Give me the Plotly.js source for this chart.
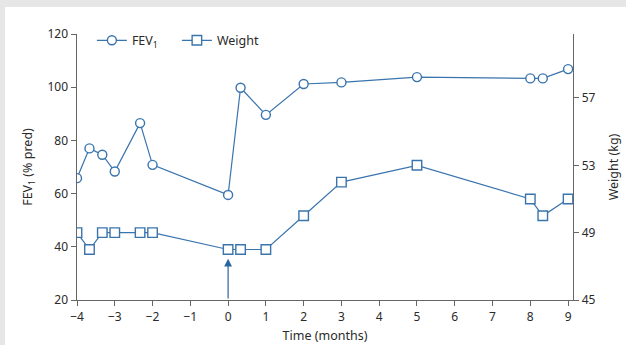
<!DOCTYPE html>
<html>
<head>
<meta charset="utf-8">
<script src="https://cdn.plot.ly/plotly-3.0.1.min.js"></script>
<style>
html,body{margin:0;padding:0;background:#e6e6e6;width:626px;height:345px;overflow:hidden;}
#chart{position:absolute;left:5px;top:7px;width:621px;height:338px;background:#fff;}
</style>
</head>
<body>
<div id="chart"></div>
<script>
const months = [-4, -3.67, -3.33, -3, -2.33, -2, 0, 0.33, 1, 2, 3, 5, 8, 8.33, 9];
const fev1 = [65.8, 77, 74.6, 68.3, 86.5, 70.8, 59.5, 99.8, 89.6, 101.2, 101.8, 103.8, 103.3, 103.3, 106.8];
const weight = [49, 48, 49, 49, 49, 49, 48, 48, 48, 50, 52, 53, 51, 50, 51];
const xTicks = [-4, -3, -2, -1, 0, 1, 2, 3, 4, 5, 6, 7, 8, 9];
const fevTicks = [20, 40, 60, 80, 100, 120];
const weightTicks = [45, 49, 53, 57];

const blue = '#3a74ad';
const axisCol = '#666';
const font = {family: 'Noto Sans, sans-serif', size: 12, color: '#2a2a2a'};

const traces = [
  {x: months, y: fev1, name: 'FEV<sub>1</sub>', type: 'scatter', mode: 'lines+markers',
   line: {color: blue, width: 1.2},
   marker: {symbol: 'circle', size: 9, color: '#fff', line: {color: blue, width: 1.4}}},
  {x: months, y: weight, name: 'Weight', yaxis: 'y2', type: 'scatter', mode: 'lines+markers',
   line: {color: blue, width: 1.2},
   marker: {symbol: 'square', size: 9.5, color: '#fff', line: {color: blue, width: 1.4}}}
];

const layout = {
  width: 621, height: 338,
  margin: {l: 72, r: 52.7, t: 27, b: 45},
  paper_bgcolor: '#fff', plot_bgcolor: '#fff',
  font: font,
  showlegend: true,
  legend: {orientation: 'h', x: 0.03, y: 0.975, xanchor: 'left', yanchor: 'middle',
           entrywidth: 40, entrywidthmode: 'pixels',
           font: {family: 'Noto Sans, sans-serif', size: 12.5, color: '#2a2a2a'}, bgcolor: 'rgba(0,0,0,0)'},
  xaxis: {range: [-4, 9.13], tickvals: xTicks, ticks: 'outside', ticklen: 5, tickcolor: axisCol,
          showline: true, linecolor: axisCol, linewidth: 1.3, showgrid: false, zeroline: false,
          title: {text: 'Time (months)', standoff: 7, font: {size: 12.5, color: '#2a2a2a'}}},
  yaxis: {range: [20, 120], tickvals: fevTicks, ticks: 'outside', ticklen: 5, tickcolor: axisCol,
          showline: true, linecolor: axisCol, linewidth: 1.5, showgrid: false, zeroline: false,
          title: {text: 'FEV<sub>1</sub> (% pred)', standoff: 12, font: {size: 12.5, color: '#2a2a2a'}}},
  yaxis2: {range: [45, 60.8], tickvals: weightTicks, overlaying: 'y', side: 'right',
           ticks: 'outside', ticklen: 5, tickcolor: axisCol,
           showline: true, linecolor: axisCol, linewidth: 1.3, showgrid: false, zeroline: false,
           title: {text: 'Weight (kg)', standoff: 14, font: {size: 12.5, color: '#2a2a2a'}}},
  annotations: [{x: 0, y: 35.5, ax: 0, ay: 20, xref: 'x', yref: 'y', axref: 'x', ayref: 'y',
                 showarrow: true, arrowhead: 2, arrowsize: 1.3, arrowwidth: 1.2, arrowcolor: '#2a66a0', text: ''}]
};

Plotly.newPlot('chart', traces, layout, {displayModeBar: false, staticPlot: true});
</script>
</body>
</html>
